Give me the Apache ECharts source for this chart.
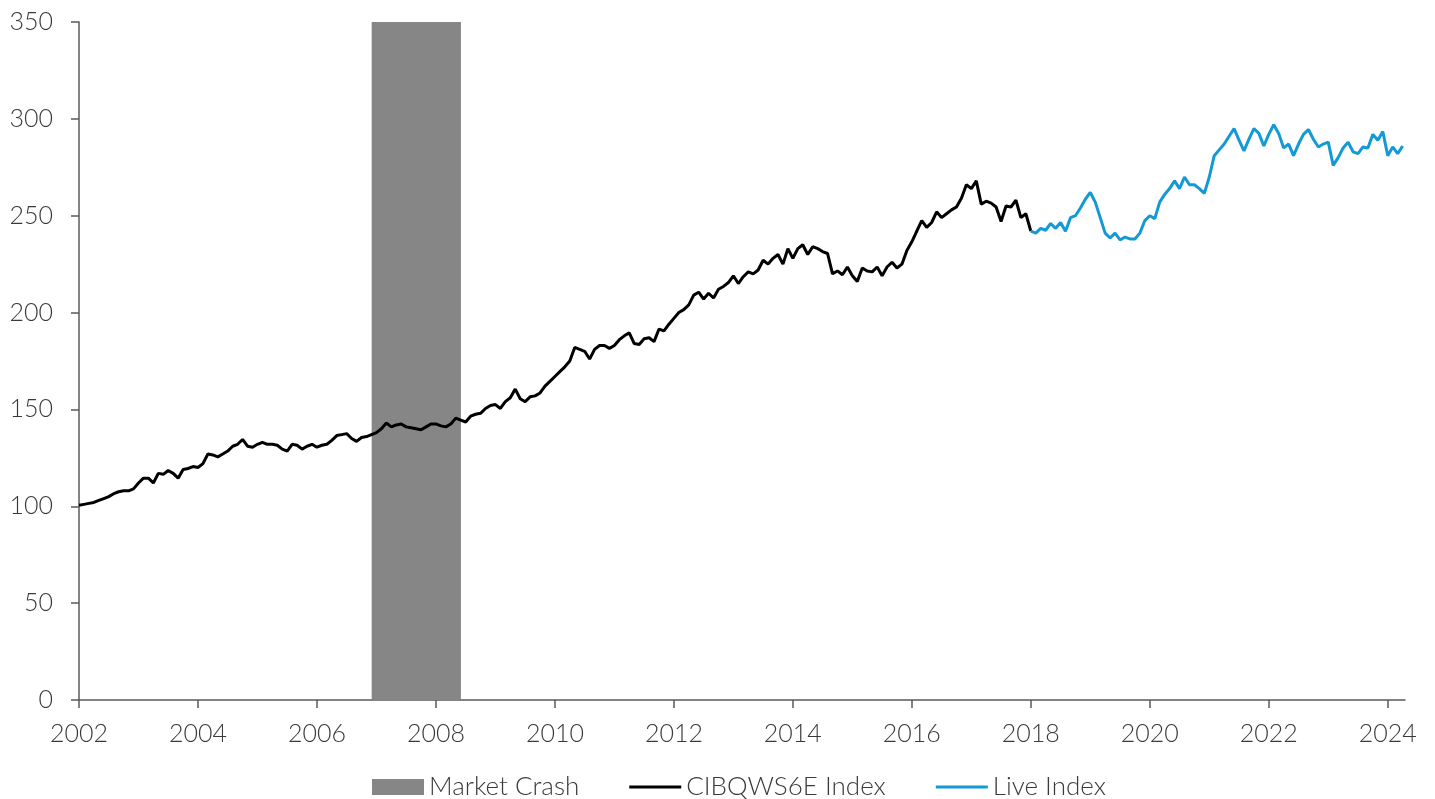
<!DOCTYPE html>
<html>
<head>
<meta charset="utf-8">
<script src="https://cdn.jsdelivr.net/npm/echarts@6/dist/echarts.min.js"></script>
<style>html,body{margin:0;padding:0;background:#fff}#c{width:1435px;height:799px}</style>
</head>
<body>
<div id="c"></div>
<script>
// monthly values, first month = Jan 2002
const startYear = 2002;
const indexValues = [
100.5,101,101.5,102,103,104,105,106.5,107.5,108,108,109,
112,114.5,114.5,112,117,116.5,118.5,117,114.5,119,119.5,120.5,
120,122,127,126.5,125.5,127,128.5,131,132,134.5,131,130.5,
132,133,132,132,131.5,129.5,128.5,132,131.5,129.5,131,132,
130.5,131.5,132,134,136.5,137,137.5,135,133.5,135.5,136,137,
138,140,143,141,142,142.5,141,140.5,140,139.5,141,142.5,
142.5,141.5,141,142.5,145.5,144.5,143.5,146.5,147.5,148,150.5,152,
152.5,150.5,154,156,160.5,155.5,154,156.5,157,158.5,162,164.5,
167,169.5,172,175,182,181,180,176,181,183,183,181.5,
183,186,188,189.5,184,183.5,186.5,187,185,191.5,190.5,194,
197,200,201.5,204,209,210.5,207,210,207.5,212,213.5,215.5,
219,215,218.5,221,220,222,227,225,228,230,225,233,
228,233,235,230,234,233,231.5,230.5,220,221.5,219.5,223.5,
219,216,223,221.5,221,223.5,219,223.5,226,223,225,232,
236.5,242,247.5,244,246.5,252,249,251,253,254.5,259,266,
264,268,256,257.5,256.5,254.5,247,255,254.5,258,249,251,
242
];
const liveStartMonth = 192; // Jan 2018
const liveValues = [
242,241,243.5,242.5,246,243.5,246.5,242,249,250,254,258.5,
262,257,249,241,238.5,241,237.5,239,238,238,241,247.5,
250,248.5,257,261,264,268,264,270,266,266,264,261.5,
270,281,284,287,291,295,289,283.5,289.5,295,292.5,286,
292,297,292.5,285,287,281,287,292,294.5,289.5,285.5,287,
288,276,280,285,288,283,282,285.5,285,292,289,293.5,
281,285.5,282,286
];
const crashRange = [2006.92, 2008.42];
const xTicks = [2002,2004,2006,2008,2010,2012,2014,2016,2018,2020,2022,2024];

const toPairs = (vals, m0) => vals.map((v, i) => [startYear + (m0 + i) / 12, v]);

const font = 'Lato, "Open Sans", sans-serif';
const txt = '#3a3a3a';
const lineIcon = 'path://M0,0 L52,0 L52,3 L0,3 Z';
const chart = echarts.init(document.getElementById('c'));
chart.setOption({
  animation: false,
  grid: { left: 79, right: 30, top: 22, bottom: 99, containLabel: false },
  legend: {
    left: 372, top: 771, padding: 0,
    itemWidth: 52, itemHeight: 16, itemGap: 50,
    textStyle: { fontFamily: font, fontSize: 26, lineHeight: 32, fontWeight: 300, color: txt },
    data: [
      { name: 'Market Crash', icon: 'rect' },
      { name: 'CIBQWS6E Index', icon: lineIcon },
      { name: 'Live Index', icon: lineIcon }
    ]
  },
  xAxis: {
    type: 'value', min: 2002, max: 2024.29, interval: 2,
    axisLine: { show: true, lineStyle: { color: '#5a5a5a', width: 1.5 } },
    axisTick: { show: true, length: 8, lineStyle: { color: '#5a5a5a', width: 1.5 }, customValues: xTicks },
    axisLabel: { customValues: xTicks, margin: 21, fontFamily: font, fontSize: 25, fontWeight: 300, color: txt, formatter: v => String(Math.round(v)) },
    splitLine: { show: false }
  },
  yAxis: {
    type: 'value', min: 0, max: 350, interval: 50,
    axisLine: { show: true, lineStyle: { color: '#5a5a5a', width: 1.5 } },
    axisTick: { show: true, length: 8, lineStyle: { color: '#5a5a5a', width: 1.5 } },
    axisLabel: { margin: 26, fontFamily: font, fontSize: 25, fontWeight: 300, color: txt },
    splitLine: { show: false }
  },
  series: [
    {
      name: 'Market Crash', type: 'line', data: [],
      color: '#868686', itemStyle: { color: '#868686' },
      markArea: {
        silent: true,
        itemStyle: { color: '#868686', opacity: 1 },
        data: [[{ xAxis: crashRange[0] }, { xAxis: crashRange[1] }]]
      }
    },
    {
      name: 'CIBQWS6E Index', type: 'line', data: toPairs(indexValues, 0),
      symbol: 'none', color: '#000000', itemStyle: { color: '#000000' },
      lineStyle: { color: '#000000', width: 3 }, z: 3
    },
    {
      name: 'Live Index', type: 'line', data: toPairs(liveValues, liveStartMonth),
      symbol: 'none', color: '#139ad6', itemStyle: { color: '#139ad6' },
      lineStyle: { color: '#139ad6', width: 3 }, z: 4
    }
  ]
});
</script>
</body>
</html>
